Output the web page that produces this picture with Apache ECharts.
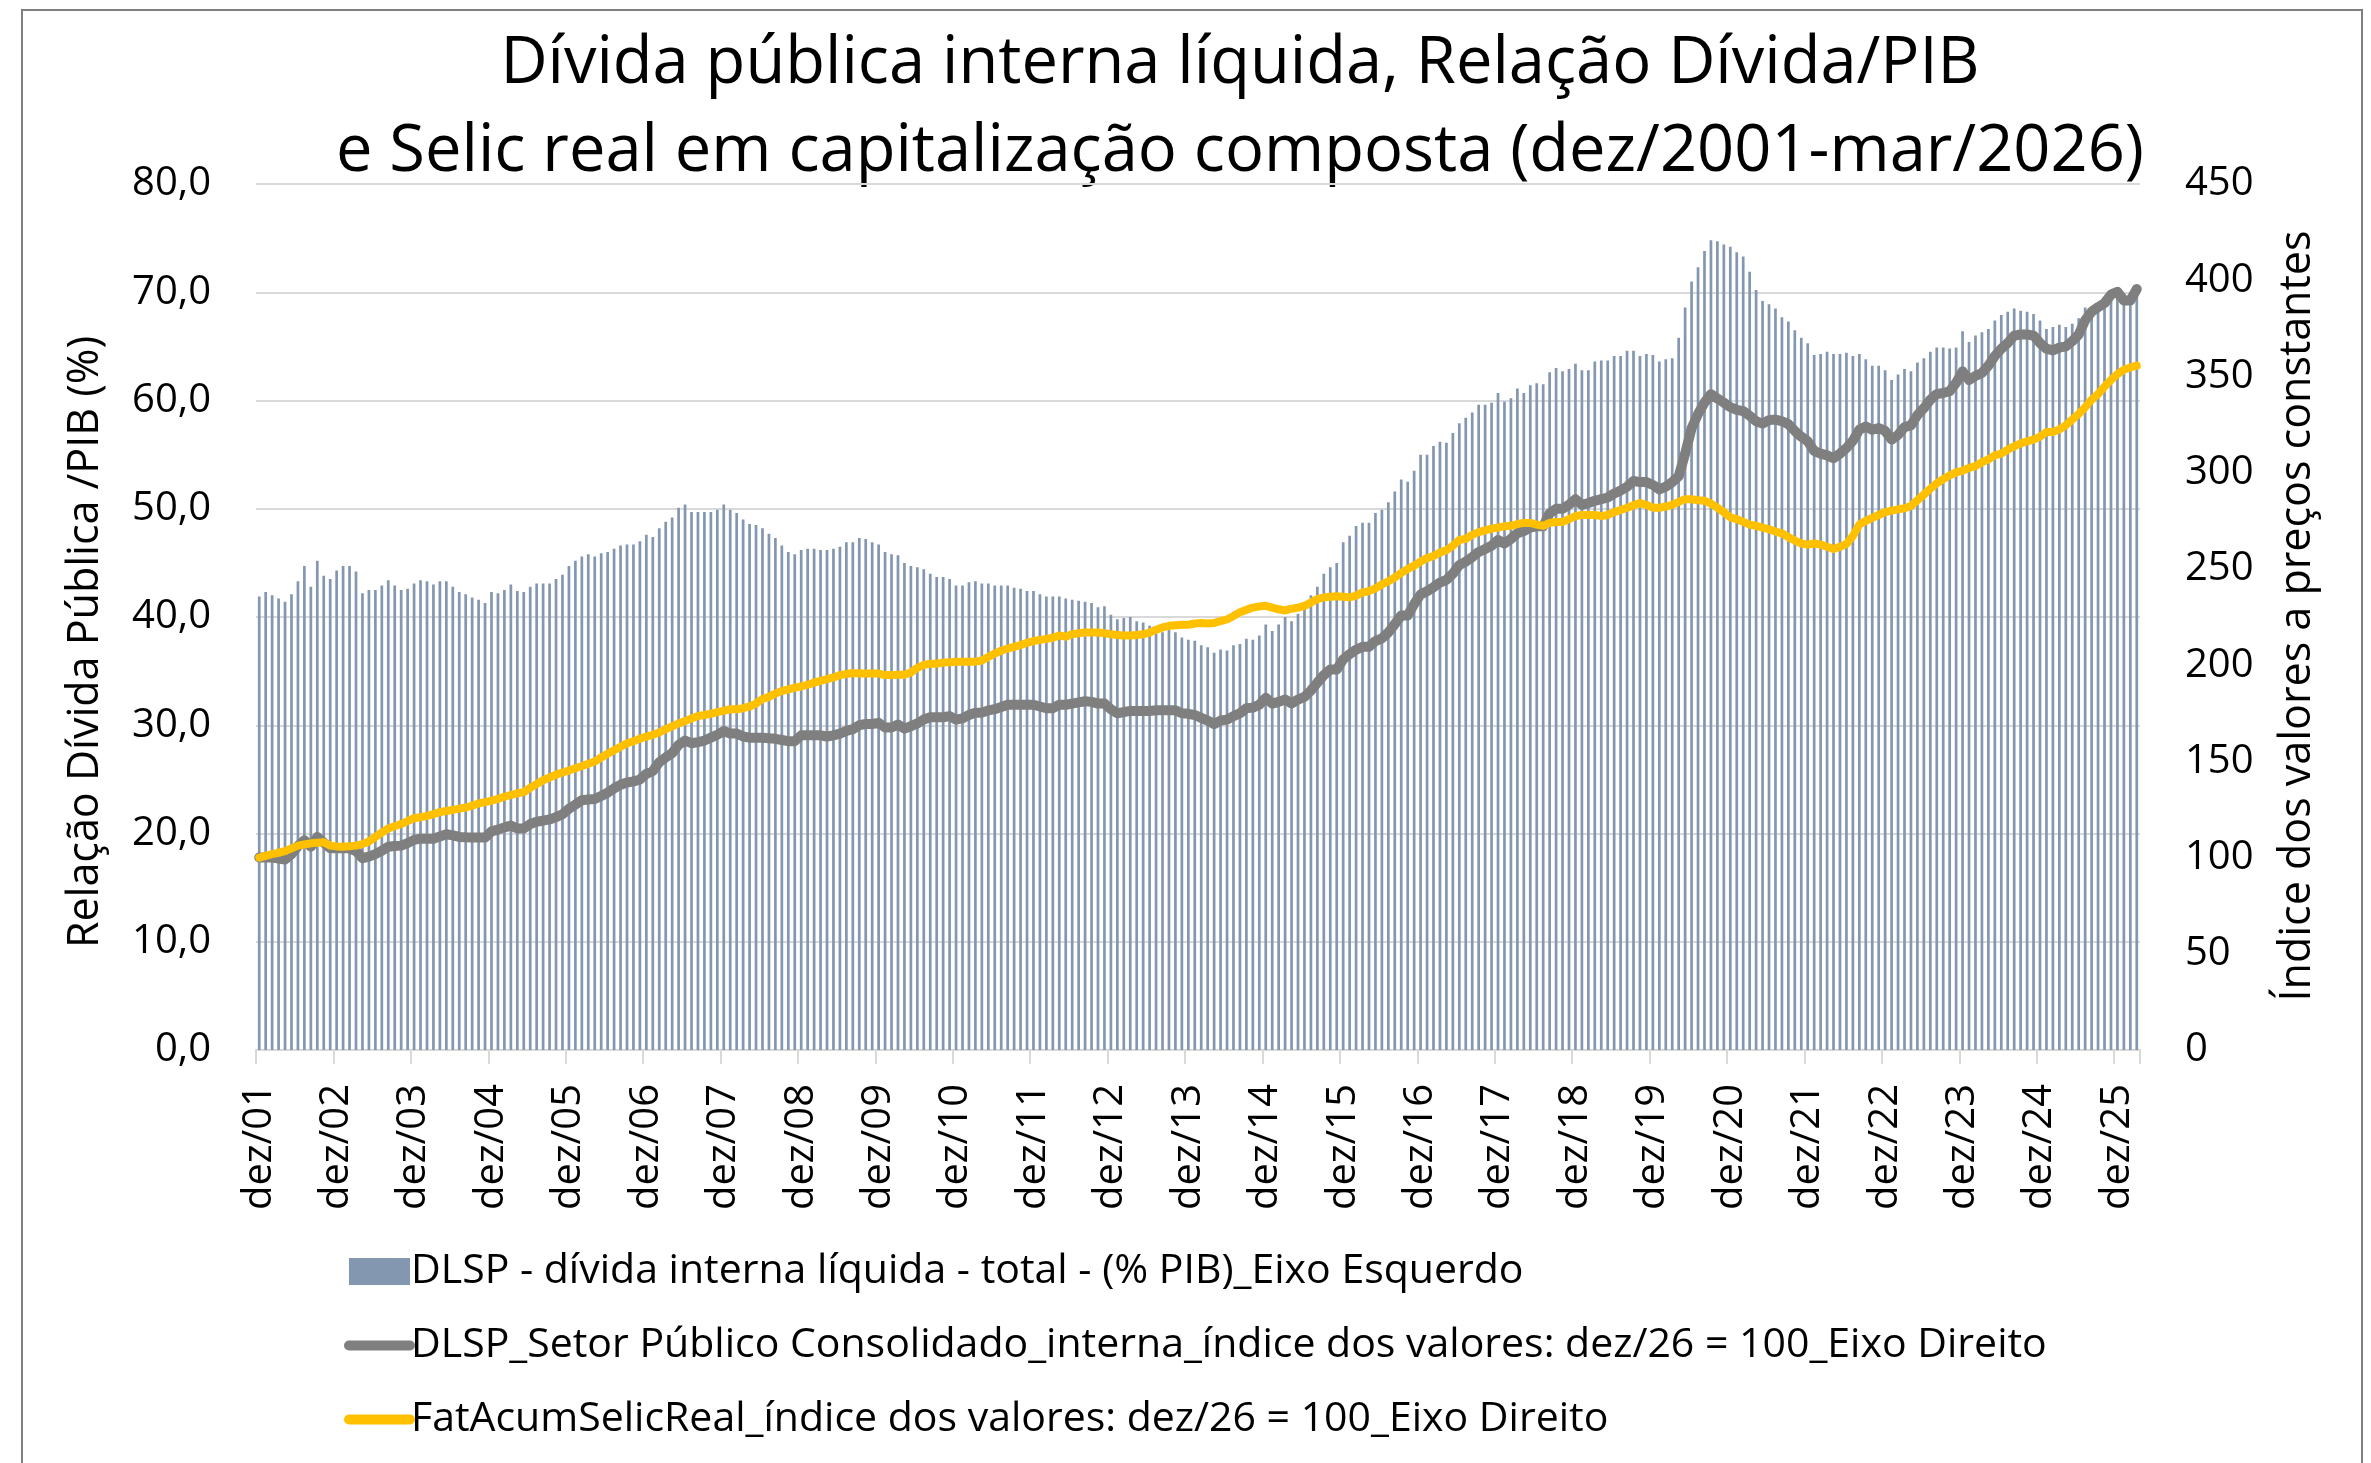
<!DOCTYPE html>
<html>
<head>
<meta charset="utf-8">
<script src="https://cdn.jsdelivr.net/npm/echarts@6/dist/echarts.min.js"></script>
<style>
  html, body { margin: 0; padding: 0; background: #fff; }
  #grafico { width: 2371px; height: 1463px; }
</style>
</head>
<body>
<div id="grafico"></div>
<script>
// meses dez/2001 .. mar/2026 (292 pontos)
var meses = ['jan', 'fev', 'mar', 'abr', 'mai', 'jun', 'jul', 'ago', 'set', 'out', 'nov', 'dez'];
var categorias = [];
for (var a = 2001; a <= 2026; a++) {
  for (var m = 0; m < 12; m++) {
    if ((a === 2001 && m < 11) || (a === 2026 && m > 2)) continue;
    categorias.push(meses[m] + '/' + String(a).slice(2));
  }
}

var nomeBarras = 'DLSP - dívida interna líquida - total - (% PIB)_Eixo Esquerdo';
var nomeDivida = 'DLSP_Setor Público Consolidado_interna_índice dos valores: dez/26 = 100_Eixo Direito';
var nomeSelic = 'FatAcumSelicReal_índice dos valores: dez/26 = 100_Eixo Direito';

// DLSP % PIB (eixo esquerdo)
var dlspPib = [
  41.9, 42.3, 42.0, 41.7, 41.4, 42.1, 43.3, 44.7, 42.8, 45.2,
  43.8, 43.5, 44.3, 44.7, 44.7, 44.2, 42.2, 42.5, 42.5, 42.9,
  43.4, 42.9, 42.5, 42.6, 43.1, 43.4, 43.3, 43.0, 43.3, 43.3,
  42.8, 42.3, 42.1, 41.8, 41.6, 41.3, 42.3, 42.2, 42.5, 43.0,
  42.4, 42.3, 42.8, 43.1, 43.1, 43.1, 43.5, 43.9, 44.7, 45.2,
  45.6, 45.8, 45.6, 45.9, 46.0, 46.3, 46.6, 46.7, 46.7, 47.0,
  47.6, 47.4, 48.2,
  48.8, 49.2, 50.1, 50.4, 49.7, 49.7, 49.7, 49.7, 49.9, 50.4,
  49.9, 49.6, 49.0, 48.6, 48.5, 48.2, 47.7, 47.3, 46.6, 46.0,
  45.8, 46.2, 46.3, 46.3, 46.2, 46.2, 46.3, 46.5, 46.9, 46.9,
  47.3, 47.2, 46.9, 46.7, 46.0, 45.8, 45.7, 45.0, 44.7, 44.6,
  44.4, 44.0, 43.7, 43.7, 43.5, 42.9, 42.9, 43.2, 43.3, 43.1,
  43.1, 42.9, 42.9, 42.9, 42.7, 42.6, 42.4, 42.4, 42.1, 41.9,
  41.9, 41.9,
  41.7, 41.6, 41.5, 41.4, 41.3, 40.9, 41.0, 40.2, 39.8, 39.9,
  40.0, 39.6, 39.5, 39.2, 38.8, 38.6, 38.8, 38.6, 38.1, 37.9,
  37.8, 37.4, 37.2, 36.7, 37.0, 36.9, 37.4, 37.5, 38.0, 37.9,
  38.3, 39.3, 38.7, 39.3, 40.0, 39.6, 40.3, 40.8, 42.0, 42.8,
  44.0, 44.6, 45.0, 46.9, 47.5, 48.4, 48.7, 48.7, 49.6, 49.9,
  50.6, 51.6, 52.7, 52.5, 53.5, 55.0, 55.0, 55.8, 56.2, 56.1,
  57.0, 57.9,
  58.4, 58.9, 59.6, 59.6, 59.8, 60.7, 59.9, 60.2, 61.1, 60.7,
  61.4, 61.6, 61.5, 62.6, 63.0, 62.7, 62.9, 63.4, 62.8, 62.8,
  63.6, 63.7, 63.7, 64.1, 64.1, 64.6, 64.6, 64.1, 64.3, 64.2,
  63.6, 63.8, 63.9, 65.8, 68.6, 71.0, 72.3, 73.8, 74.8, 74.7,
  74.4, 74.2, 73.7, 73.3, 71.9, 70.2, 69.2, 68.9, 68.5, 67.7,
  67.3, 66.5, 65.8, 65.3, 64.2, 64.3, 64.5, 64.3, 64.3, 64.4,
  64.1, 64.3,
  63.8, 63.2, 63.2, 62.8, 61.9, 62.4, 62.9, 62.7, 63.5, 63.9,
  64.5, 64.9, 64.9, 64.8, 64.9, 66.4, 65.4, 66.0, 66.3, 66.6,
  67.4, 67.9, 68.2, 68.5, 68.3, 68.2, 68.0, 67.4, 66.6, 66.8,
  67.0, 66.8, 67.1, 67.6, 68.6, 68.7, 68.9, 69.4, 70.1, 70.2,
  69.9, 69.5, 69.9
];

// indice da DLSP interna a precos constantes (eixo direito)
var indiceDivida = [
  100, 100, 100, 99.5, 99, 101.8, 106, 109, 105.6, 110.7,
  107.7, 104.8, 104.8, 104.8, 104.8, 103.3, 99.7, 100.5, 101.8, 103.5,
  105.6, 106, 106.2, 107.5, 109.2, 109.8, 109.8, 109.8, 111, 112.1,
  111.5, 110.7, 110.5, 110.4, 110.4, 110.4, 113.6, 114.5, 115.7, 116.6,
  115.1, 115.1, 117.4, 118.6, 119.2, 119.8, 121, 122.5, 125.4, 127.5,
  129.8, 130.2, 130.4, 132, 133.7, 136, 137.8, 139, 139.6, 140.6,
  143.5, 145, 149.5,
  152, 154.3, 158.5, 160.8, 159.4, 160, 160.8, 162.3, 163.8, 165.8,
  164.4, 164.4, 162.9, 162.3, 162.3, 162.3, 162, 161.7, 161.1, 160.5,
  160.5, 163.5, 163.5, 163.5, 163.5, 162.9, 163.5, 164.4, 165.8, 166.7,
  168.8, 169.4, 169.4, 170, 167.6, 167.6, 169.1, 167, 168.2, 169.7,
  171.7, 172.9, 172.9, 172.9, 173.5, 171.7, 172.3, 174.1, 175.3, 175.3,
  176.5, 177.1, 178.2, 179.4, 179.4, 179.4, 179.4, 179.4, 178.5, 177.6,
  177.6, 179.4,
  179.4, 180, 180.6, 181.2, 180.9, 180, 180, 177.1, 175, 175.6,
  176.2, 176.2, 176.2, 176.2, 176.5, 176.5, 176.5, 176.5, 175, 174.7,
  174.1, 172.6, 171.2, 169.4, 171.2, 171.7, 173.5, 175, 177.6, 177.9,
  179.4, 183, 180, 180.9, 182.1, 180, 182.1, 183.5, 186.8, 190.9,
  194.8, 197.7, 197.7, 203, 205.7, 208, 209.5, 209.5, 212.5, 213.9,
  216.9, 221.3, 225.8, 225.8, 231.7, 236.7, 238.4, 240.5, 242.9, 244.3,
  247.5, 252,
  253.8, 256.1, 258.8, 260.3, 262, 265, 263.2, 265.6, 268.5, 269.7,
  271.5, 272.1, 272.1, 278.9, 281.2, 281.2, 283.3, 286.2, 283.3, 284.2,
  285.4, 286.2, 287.1, 289.2, 290.7, 292.7, 295.7, 295.1, 295.1, 293.6,
  291.3, 292.7, 295.1, 298.1, 309.9, 323.1, 330.5, 336.4, 340.8, 338.5,
  336.4, 334, 332.6, 332, 329.6, 326.7, 325.5, 327.3, 327.6, 326.7,
  325.2, 321.7, 318.7, 316.3, 311.3, 309.9, 309, 307.5, 309.9, 312.8,
  316.6, 322.3,
  324, 322.3, 323.2, 321.7, 317.2, 319.6, 323.7, 324.6, 329.9, 333.5,
  337.9, 340.8, 341.4, 342.3, 346.7, 352.6, 348.2, 350.3, 351.8, 355.6,
  360.6, 364.4, 367.4, 371.2, 371.8, 371.8, 371.2, 367.4, 364.4, 363.6,
  365, 365.6, 368.3, 371.8, 379.2, 383.6, 386, 388.1, 392.5, 394,
  389.5, 389.5, 395.4
];

// fator acumulado da Selic real (eixo direito)
var selicReal = [
  100, 100.9, 101.8, 102.5, 103.3, 104.8, 106.2, 106.8, 107.4, 107.7,
  108, 106.2, 105.8, 105.6, 105.9, 106.2, 107, 108.3, 110.7, 113,
  115.1, 116.3, 117.4, 119, 120.4, 121, 121.6, 122.6, 123.6, 124.2,
  124.8, 125.4, 126, 127, 128.1, 128.8, 129.5, 130.5, 131.6, 132.5,
  133.4, 134, 136.3, 138.2, 140.2, 141.6, 143.1, 144.2, 145.2, 146.4,
  147.6, 148.7, 149.9, 152, 153.9, 155.8, 157.6, 159.4, 160.4, 161.8,
  162.8, 163.8, 165,
  166.7, 168.2, 169.7, 170.9, 172.3, 173.5, 174.1, 174.7, 175.6, 176.2,
  177.1, 177.1, 177.6, 178.5, 180, 182.4, 183.5, 185.3, 186.5, 187.4,
  188.3, 188.9, 189.8, 190.9, 191.8, 192.7, 193.6, 194.8, 195.4, 195.9,
  195.6, 195.6, 195.6, 195.6, 194.8, 194.8, 195, 195, 196.2, 198.6,
  200.1, 200.7, 200.7, 201.3, 201.5, 201.8, 201.8, 201.8, 201.8, 202.4,
  204.2, 206, 207.5, 208.6, 209.5, 210.4, 211.6, 212.5, 213.1, 213.6,
  214.2, 215.4,
  214.8, 216, 216.6, 216.9, 216.9, 216.9, 216.6, 216, 215.7, 215.4,
  215.4, 215.7, 216, 216.9, 218.4, 219.6, 220.4, 220.7, 221, 221,
  221.6, 221.9, 221.6, 221.9, 222.8, 223.7, 225.5, 227.5, 228.7, 229.9,
  230.5, 230.8, 229.9, 229, 228.4, 229.3, 229.9, 230.8, 232.5, 234.3,
  235.2, 235.5, 235.8, 235.5, 235.2, 236.1, 237.8, 238.4, 239.9, 242,
  243.5, 245.5, 247.9, 249.9, 251.7, 253.8, 255.6, 256.7, 258.5, 259.7,
  262, 265,
  265.6, 267.7, 269.1, 270, 270.9, 271.5, 272.1, 272.4, 273.3, 273.9,
  273.9, 273, 272.4, 273.9, 274.4, 274.4, 275.9, 277.4, 278, 278,
  278, 277.4, 278, 279.5, 280.6, 281.8, 283, 284.2, 283.3, 281.8,
  281.8, 282.4, 283.3, 284.8, 286.2, 286.2, 285.7, 285.4, 283.9, 281.8,
  279.5, 276.8, 275.9, 274.4, 273, 272.4, 271.5, 270.6, 269.4, 268.5,
  266.5, 264.7, 263.2, 262.6, 263.2, 262.6, 261.5, 260.3, 261.5, 262.9,
  267.1, 273,
  275, 276.5, 278, 279.5, 280.3, 280.9, 281.5, 282.7, 285.7, 288.6,
  291.6, 294.5, 296.6, 298.6, 300.1, 301, 302.5, 303.4, 305.4, 306.9,
  309, 309.9, 311.9, 313.7, 315.2, 316.3, 317.2, 318.7, 321.1, 321.1,
  322.5, 324.6, 327.6, 330.5, 334, 337.9, 340.8, 344.7, 348.2, 351.2,
  353.5, 354.7, 355.6
];

var fonte = '"Open Sans", "Noto Sans", sans-serif';
var corTexto = '#000000';

var chart = echarts.init(document.getElementById('grafico'));
var option = {
  animation: false,
  backgroundColor: '#ffffff',
  grid: { left: 256, right: 231, top: 184, bottom: 413, containLabel: false },
  graphic: [
    {
      type: 'rect', silent: true, z: -10,
      shape: { x: 22, y: 10, width: 2340, height: 1500 },
      style: { fill: 'none', stroke: '#7f7f7f', lineWidth: 2 }
    },
    {
      type: 'text', x: 1240, y: 108,
      style: {
        text: 'Dívida pública interna líquida, Relação Dívida/PIB\ne Selic real em capitalização composta (dez/2001-mar/2026)',
        fontSize: 65, fontFamily: fonte, fill: corTexto, lineHeight: 88,
        align: 'center', textAlign: 'center', verticalAlign: 'middle', textVerticalAlign: 'middle'
      }
    },
    {
      type: 'text', x: 86, y: 642, rotation: Math.PI / 2,
      style: {
        text: 'Relação Dívida Pública /PIB (%)',
        fontSize: 43, fontFamily: fonte, fill: corTexto,
        align: 'center', textAlign: 'center', verticalAlign: 'middle', textVerticalAlign: 'middle'
      }
    },
    {
      type: 'text', x: 2298, y: 616, rotation: Math.PI / 2,
      style: {
        text: 'Índice dos valores a preços constantes',
        fontSize: 43, fontFamily: fonte, fill: corTexto,
        align: 'center', textAlign: 'center', verticalAlign: 'middle', textVerticalAlign: 'middle'
      }
    }
  ],
  legend: {
    orient: 'vertical',
    left: 339,
    top: 1246,
    itemWidth: 61,
    itemHeight: 27,
    itemGap: 33,
    textStyle: { fontSize: 41, fontFamily: fonte, color: corTexto, lineHeight: 41, padding: [0, 0, 0, -4] },
    data: [
      { name: nomeBarras, icon: 'rect' },
      { name: nomeDivida, itemStyle: { opacity: 0 }, lineStyle: { width: 10, cap: 'round', color: '#7f7f7f' } },
      { name: nomeSelic, itemStyle: { opacity: 0 }, lineStyle: { width: 10, cap: 'round', color: '#ffc000' } }
    ]
  },
  xAxis: {
    type: 'category',
    data: categorias,
    boundaryGap: true,
    axisLine: { lineStyle: { color: '#d9d9d9', width: 2 } },
    axisTick: { show: true, interval: 11, length: 14, lineStyle: { color: '#d9d9d9', width: 2 } },
    axisLabel: {
      interval: 11, rotate: 90, margin: 34,
      fontSize: 40, fontFamily: fonte, color: corTexto
    },
    splitLine: { show: false }
  },
  yAxis: [
    {
      type: 'value', min: 0, max: 80, interval: 10, position: 'left',
      axisLine: { show: false },
      axisTick: { show: false },
      axisLabel: {
        margin: 45, fontSize: 40, fontFamily: fonte, color: corTexto,
        formatter: function (v) { return v.toFixed(1).replace('.', ','); }
      },
      splitLine: { show: true, lineStyle: { color: '#d9d9d9', width: 2 } }
    },
    {
      type: 'value', min: 0, max: 450, interval: 50, position: 'right',
      axisLine: { show: false },
      axisTick: { show: false },
      axisLabel: { margin: 45, fontSize: 40, fontFamily: fonte, color: corTexto },
      splitLine: { show: false }
    }
  ],
  series: [
    {
      name: nomeBarras,
      type: 'bar',
      yAxisIndex: 0,
      data: dlspPib,
      barWidth: '42%',
      itemStyle: { color: '#8497b0' }
    },
    {
      name: nomeDivida,
      type: 'line',
      yAxisIndex: 1,
      data: indiceDivida,
      symbol: 'none',
      lineStyle: { color: '#7f7f7f', width: 10, cap: 'round', join: 'round' },
      itemStyle: { color: '#7f7f7f' }
    },
    {
      name: nomeSelic,
      type: 'line',
      yAxisIndex: 1,
      data: selicReal,
      symbol: 'none',
      lineStyle: { color: '#ffc000', width: 8, cap: 'round', join: 'round' },
      itemStyle: { color: '#ffc000' }
    }
  ]
};
chart.setOption(option);
</script>
</body>
</html>
